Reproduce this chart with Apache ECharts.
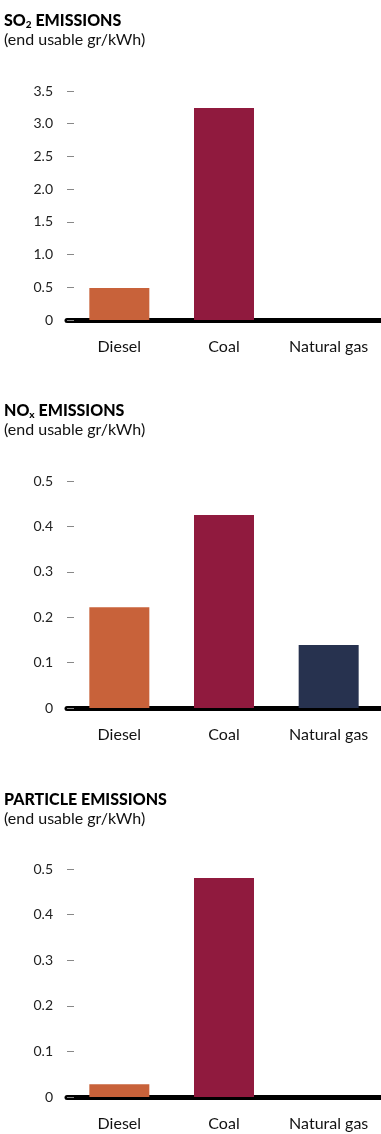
<!DOCTYPE html>
<html><head><meta charset="utf-8">
<script src="https://cdn.jsdelivr.net/npm/echarts@6/dist/echarts.min.js"></script>
<style>html,body{margin:0;padding:0;background:#fff}#c{width:381px;height:1134px}</style>
</head><body><div id="c"></div>
<script>
const categories = ['Diesel', 'Coal', 'Natural gas'];
const barColors = ['#C8623A', '#901A3E', '#27324F'];
const so2Values = [0.49, 3.24, 0];
const noxValues = [0.222, 0.425, 0.139];
const particleValues = [0.028, 0.48, 0];
const so2Ticks = [0, 0.5, 1.0, 1.5, 2.0, 2.5, 3.0, 3.5];
const noxTicks = [0, 0.1, 0.2, 0.3, 0.4, 0.5];
const particleTicks = [0, 0.1, 0.2, 0.3, 0.4, 0.5];
const subtitle = '(end usable gr/kWh)';

const FONT = 'Lato';
const panels = [
  {title: '{b|SO}{s|2}{b| EMISSIONS}', values: so2Values, ticks: so2Ticks, interval: 0.5, top: 91, height: 229, titleTop: 7},
  {title: '{b|NO}{s|x}{b| EMISSIONS}', values: noxValues, ticks: noxTicks, interval: 0.1, top: 481, height: 227, titleTop: 397},
  {title: '{b|PARTICLE EMISSIONS}', values: particleValues, ticks: particleTicks, interval: 0.1, top: 869, height: 228, titleTop: 787}
];

const option = {
  animation: false,
  title: panels.map(p => ({
    text: p.title, subtext: subtitle, left: -1, top: p.titleTop, itemGap: 3,
    textStyle: {rich: {
      b: {fontFamily: FONT, fontWeight: 900, fontSize: 16, color: '#000'},
      s: {fontFamily: FONT, fontWeight: 900, fontSize: 10, color: '#000', verticalAlign: 'bottom', padding: [8, 0, 0, 0]}
    }},
    subtextStyle: {fontFamily: FONT, fontSize: 16, color: '#111'}
  })),
  grid: panels.map(p => ({left: 67, right: 0, top: p.top, height: p.height})),
  xAxis: panels.map((p, i) => ({
    type: 'category', gridIndex: i, data: categories,
    axisLine: {lineStyle: {color: '#000', width: 5}},
    axisTick: {show: false},
    axisLabel: {fontFamily: FONT, fontSize: 16, color: '#111', margin: 19}
  })),
  yAxis: panels.map((p, i) => ({
    type: 'value', gridIndex: i, min: 0, max: p.ticks[p.ticks.length - 1], interval: p.interval,
    axisLine: {show: false},
    splitLine: {show: false},
    axisTick: {show: true, inside: true, length: 7, customValues: p.ticks, lineStyle: {color: '#888', width: 1}},
    axisLabel: {fontFamily: FONT, fontSize: 14, color: '#222', margin: 14, customValues: p.ticks, hideOverlap: false,
      formatter: v => v === 0 ? '0' : v.toFixed(1)}
  })),
  series: panels.map((p, i) => ({
    type: 'bar', xAxisIndex: i, yAxisIndex: i, barWidth: 60,
    data: p.values.map((v, j) => ({value: v, itemStyle: {color: barColors[j]}})),
    z: 1
  }))
};
const chart = echarts.init(document.getElementById('c'), null, {renderer: 'canvas'});
chart.setOption(option);
</script></body></html>
